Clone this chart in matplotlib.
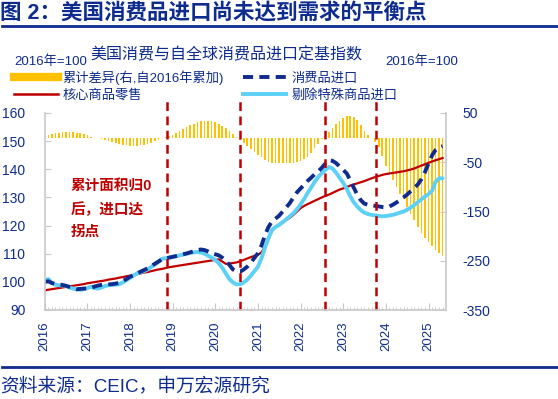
import numpy as np
import pandas as pd
import matplotlib
matplotlib.use('Agg')
import matplotlib.pyplot as plt
import matplotlib.dates as mdates
from matplotlib.lines import Line2D

plt.rcParams['font.family'] = ['Liberation Sans', 'Noto Sans CJK SC']
plt.rcParams['axes.unicode_minus'] = False

# monthly, Jan 2016 - May 2025
cum_diff = [3, 5, 7, 9, 10, 11, 12, 12, 11, 10, 9, 7,
            5, 2, 0, -1, -2, -4, -6, -8, -10, -12, -14, -15,
            -16, -16, -16, -15, -14, -12, -10, -7, -4, -1, 1, 3,
            6, 9, 13, 17, 21, 25, 28, 31, 33, 34, 34, 33,
            31, 28, 24, 19, 13, 7, 2, -4, -10, -17, -24, -30,
            -35, -40, -45, -49, -51, -52, -52, -52, -52, -52, -51, -50,
            -48, -44, -39, -32, -22, -12, -2, 6, 12, 20, 28, 34,
            39, 43, 44, 42, 36, 26, 14, 5, -1, -8, -20, -38,
            -58, -72, -86, -100, -114, -124, -140, -155, -168, -181, -193, -203,
            -212, -220, -228, -234, -240]

core_retail = [97.0, 97.2, 97.4, 97.6, 97.8, 98.0, 98.2, 98.4, 98.6, 98.8, 99.0, 99.2,
               99.5, 99.7, 99.9, 100.1, 100.3, 100.5, 100.8, 101.0, 101.2, 101.5, 101.7, 102.0,
               102.2, 102.5, 102.7, 103.0, 103.3, 103.5, 103.8, 104.1, 104.4, 104.6, 104.9, 105.2,
               105.4, 105.6, 105.8, 106.0, 106.2, 106.4, 106.6, 106.8, 107.0, 107.2, 107.4, 107.6,
               107.8, 108.0, 107.2, 106.4, 106.5, 106.7, 106.9, 107.3, 107.8, 108.3, 108.8, 109.2,
               109.6, 110.5, 112.5, 115.5, 118.0, 119.5, 120.5, 121.3, 122.0, 122.8, 123.8, 125.0,
               126.2, 127.0, 127.6, 128.2, 128.8, 129.4, 130.0, 130.5, 131.0, 131.6, 132.2, 132.8,
               133.2, 133.7, 134.2, 134.6, 135.0, 135.4, 135.8, 136.3, 136.8, 137.2, 137.6, 138.0,
               138.3, 138.5, 138.7, 138.9, 139.1, 139.3, 139.6, 139.9, 140.3, 140.8, 141.3, 141.8,
               142.3, 142.8, 143.2, 143.6, 144.0]

cons_imports = [100.0, 100.2, 99.6, 99.3, 99.1, 98.9, 98.6, 98.2, 97.8, 97.4, 97.5, 97.6,
                97.7, 97.9, 98.3, 98.7, 98.9, 99.0, 99.1, 99.2, 99.4, 99.6, 100.3, 101.0,
                101.8, 102.4, 103.0, 103.6, 104.2, 104.8, 105.6, 106.4, 107.2, 108.0, 108.4, 108.6,
                108.9, 109.2, 109.5, 109.8, 110.1, 110.5, 110.9, 111.3, 111.5, 111.3, 110.8, 110.2,
                109.8, 109.4, 108.6, 107.6, 106.0, 104.4, 103.6, 103.6, 104.4, 105.4, 106.8, 108.5,
                110.2, 113.0, 116.5, 119.5, 121.5, 122.5, 123.5, 125.0, 126.5, 128.0, 130.0, 131.8,
                133.2, 134.5, 135.8, 137.0, 138.2, 139.3, 140.5, 142.0, 143.3, 143.0, 142.2, 141.0,
                139.8, 138.5, 136.2, 133.5, 131.0, 129.0, 127.8, 127.4, 127.2, 127.0, 126.8, 126.6,
                126.5, 126.8, 127.4, 128.2, 129.0, 130.0, 131.0, 132.2, 133.4, 134.6, 136.5, 139.0,
                142.0, 145.0, 146.8, 147.8, 148.2]

ex_special = [100.5, 101.0, 99.7, 99.0, 98.8, 98.7, 98.5, 98.0, 97.6, 97.3, 97.2, 97.4,
              97.8, 98.3, 97.8, 97.6, 98.0, 98.5, 98.8, 98.9, 99.0, 99.2, 99.8, 100.6,
              101.5, 102.3, 103.0, 103.4, 103.8, 104.4, 105.3, 106.2, 107.2, 108.2, 108.4, 108.6,
              108.8, 109.1, 109.4, 109.7, 110.0, 110.3, 110.5, 110.6, 110.4, 110.0, 109.3, 108.6,
              107.8, 106.6, 105.0, 103.0, 101.0, 99.8, 99.1, 99.2, 99.8, 100.8, 102.2, 103.8,
              105.4, 108.5, 112.0, 115.5, 118.5, 119.5, 120.2, 121.2, 122.3, 123.3, 124.4, 125.8,
              127.5, 129.5, 131.5, 133.5, 135.5, 137.2, 138.6, 139.8, 140.8, 140.3, 138.8, 137.0,
              135.2, 133.0, 130.5, 128.3, 126.8, 125.5, 124.6, 124.1, 123.8, 123.6, 123.4, 123.3,
              123.4, 123.6, 123.8, 124.2, 124.6, 125.0, 125.6, 126.4, 127.3, 128.3, 129.3, 130.3,
              131.2, 132.4, 135.5, 136.8, 136.8]

turn_dates = ['2018-11-10', '2020-07-27', '2022-07-27', '2023-10-08']

dates = pd.date_range('2016-01-01', periods=len(cum_diff), freq='MS')

navy = '#0E2C8E'
red = '#C00000'
gold = '#FFC000'
sky = '#5CD0F5'
grey = '#C8C8C8'

fig = plt.figure(figsize=(5.58, 3.99), dpi=100)
ax = fig.add_axes([44.7/558, 1-310/399, 401/558, 197/399])
ax2 = ax.twinx()

# bars (right axis) drawn under the lines
ax2.bar(dates, cum_diff, width=14, color=gold, linewidth=0)
ax2.set_ylim(-350, 50)
ax2.set_yticks([50, -50, -150, -250, -350])

ax.set_zorder(ax2.get_zorder() + 1)
ax.patch.set_visible(False)

ax.plot(dates, core_retail, color=red, lw=1.6)
ax.plot(dates, ex_special, color=sky, lw=2.8, solid_capstyle='round')
ax.plot(dates, cons_imports, color=navy, lw=2.8, dashes=(2.6, 1.6))
for d in turn_dates:
    ax.axvline(pd.Timestamp(d), ymin=0, ymax=1.066, color=red, lw=1.8,
               dashes=(3.5, 2.2), clip_on=False)

ax.set_ylim(90, 160)
ax.set_yticks(range(90, 161, 10))
ax.set_xlim(pd.Timestamp('2016-01-01'), pd.Timestamp('2025-05-28'))
ax.xaxis.set_major_locator(mdates.YearLocator())
ax.xaxis.set_major_formatter(mdates.DateFormatter('%Y'))
ax.xaxis.set_minor_locator(mdates.MonthLocator())
for lab in ax.get_xticklabels():
    lab.set_rotation(90)

for a in (ax, ax2):
    for s in a.spines.values():
        s.set_visible(False)
ax.spines['left'].set_visible(True)
ax.spines['bottom'].set_visible(True)
ax2.spines['right'].set_visible(True)
for s in (ax.spines['left'], ax.spines['bottom'], ax2.spines['right']):
    s.set_color(grey)
    s.set_linewidth(1.2)

ax.tick_params(axis='y', direction='in', length=4, color=grey, labelsize=10,
               labelcolor=navy, pad=14)
ax.tick_params(axis='x', which='major', direction='in', length=5, color=grey,
               labelsize=9.5, labelcolor=navy, pad=8)
ax.tick_params(axis='x', which='minor', direction='in', length=2.5, color=grey)
ax2.tick_params(axis='y', direction='in', length=4, color=grey, labelsize=10,
                labelcolor=navy, pad=12)

# header / footer
fig.text(0.0, 1-13/399, '图 2：美国消费品进口尚未达到需求的平衡点', fontsize=15.5,
         weight='bold', color=navy, va='center', ha='left')
fig.add_artist(Line2D([0.004, 1], [1-26/399, 1-26/399], color=navy, lw=2))
fig.add_artist(Line2D([0.004, 1], [1-367/399, 1-367/399], color=navy, lw=2))
fig.text(0.0, 1-386/399, '资料来源：CEIC，申万宏源研究', fontsize=13.5,
         color=navy, va='center', ha='left')

fig.text(226/558, 1-55/399, '美国消费与自全球消费品进口定基指数', fontsize=11.5,
         color=navy, ha='center', va='center')
fig.text(14/558, 1-62/399, '2016年=100', fontsize=9.5, color=navy, va='center')
fig.text(385/558, 1-62/399, '2016年=100', fontsize=9.5, color=navy, va='center')

handles = [Line2D([], [], color=gold, lw=6),
           Line2D([], [], color=red, lw=1.8),
           Line2D([], [], color=navy, lw=2.8, dashes=(2.6, 1.6)),
           Line2D([], [], color=sky, lw=2.8)]
labels = ['累计差异(右,自2016年累加)', '核心商品零售', '消费品进口', '剔除特殊商品进口']
leg = fig.legend(handles, labels, loc='upper left', bbox_to_anchor=(14/558, 1-70/399),
                 ncol=2, frameon=False, fontsize=9.5, handlelength=3.3,
                 handletextpad=0.4, columnspacing=1.4, labelspacing=0.35,
                 borderpad=0, borderaxespad=0)
for t in leg.get_texts():
    t.set_color(navy)

fig.text(71/558, 1-209/399, '累计面积归0\n后，进口达\n拐点', fontsize=10.5,
         weight='bold', color=red, va='center', ha='left', linespacing=1.75)

fig.savefig('out.png', dpi=100)
